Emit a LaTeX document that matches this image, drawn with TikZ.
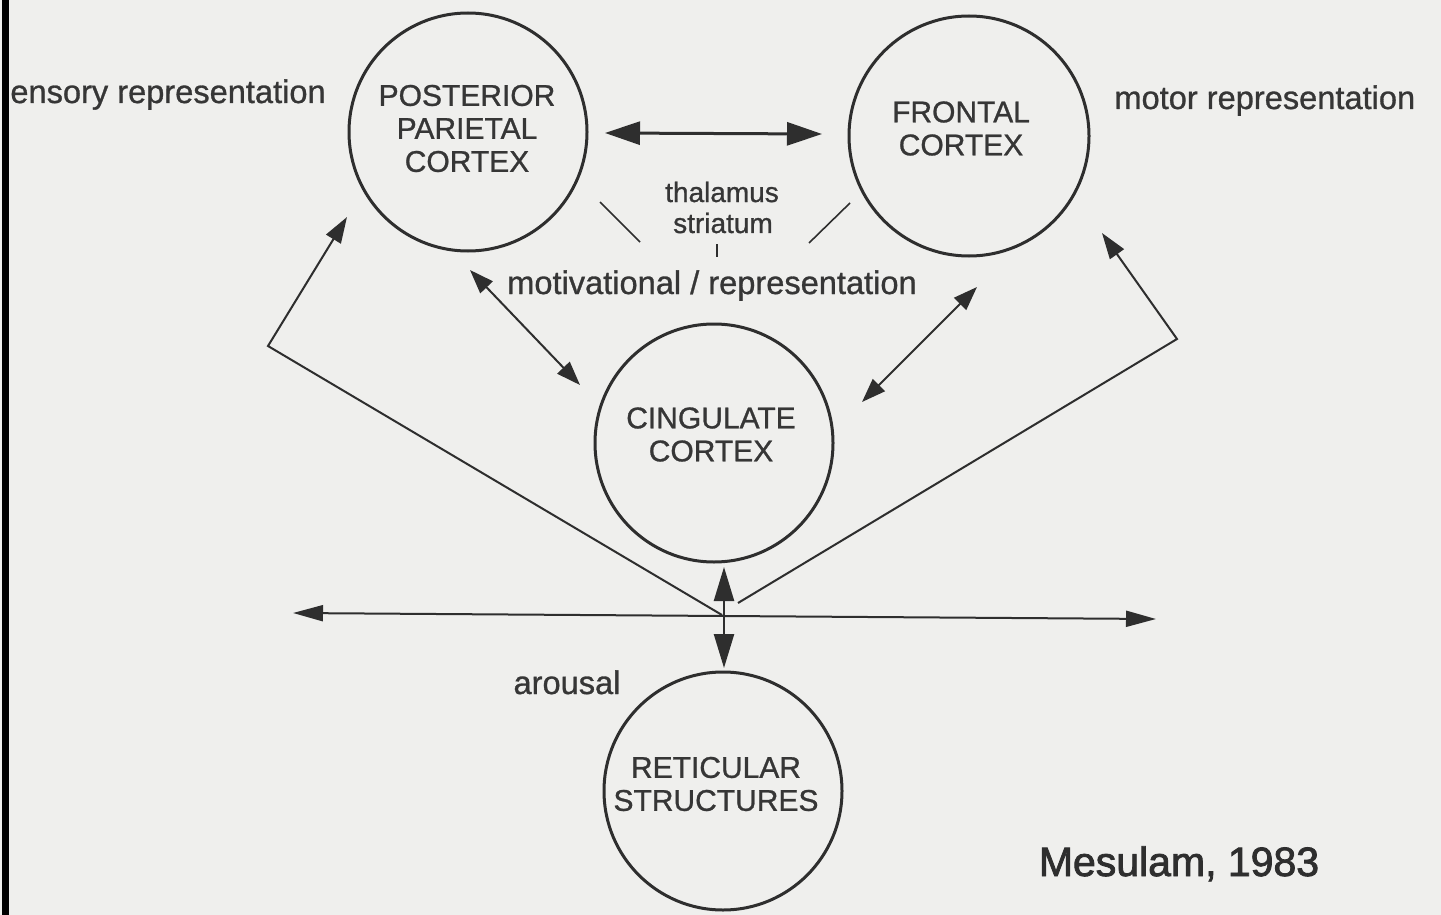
\documentclass[tikz,border=0pt]{standalone}
\usepackage{fontspec}
\setmainfont{Liberation Sans}[BoldFont=Liberation Sans, BoldFeatures={FakeBold=0.9}]
\newfontfamily\heavy{Liberation Sans}[FakeBold=2]
\usetikzlibrary{arrows.meta}
\definecolor{paper}{HTML}{EFEFED}
\definecolor{ink}{HTML}{2E2E2E}
\definecolor{txt}{HTML}{363636}
\begin{document}
\begin{tikzpicture}[x=0.5pt,y=-0.5pt,
  area/.style={circle, draw=ink, line width=1.5pt, minimum size=119pt, inner sep=0pt},
  caps/.style={font=\fontsize{15}{16.5}\selectfont\bfseries, text=txt, align=center, inner sep=0pt},
  lbl/.style={font=\fontsize{16.3}{18}\selectfont\bfseries, text=txt, inner sep=0pt, anchor=base},
  small/.style={font=\fontsize{14}{16}\selectfont\bfseries, text=txt, inner sep=0pt, anchor=base},
  bigtip/.style={{Triangle[length=17.5pt,width=11.5pt]}-{Triangle[length=17.5pt,width=11.5pt]}, line width=1.5pt, draw=ink},
  diag/.style={{Triangle[length=12pt,width=8.5pt]}-{Triangle[length=12pt,width=8.5pt]}, line width=1pt, draw=ink},
  feed/.style={-{Triangle[length=13pt,width=8.5pt]}, line width=1pt, draw=ink, line join=miter},
  axis/.style={{Triangle[length=15pt,width=8pt]}-{Triangle[length=15pt,width=8pt]}, line width=1pt, draw=ink},
  vert/.style={{Triangle[length=17pt,width=10pt]}-{Triangle[length=17pt,width=10pt]}, line width=1.2pt, draw=ink},
  thin/.style={line width=0.8pt, draw=ink}]

% paper and left frame
\fill[paper] (0,0) rectangle (1441,915);
\useasboundingbox (0,0) rectangle (1441,915);
\fill[black] (2,0) rectangle (9,915);

% cortical areas
\node[area] (pp) at (468,132) {};
\node[area, minimum size=120pt] (fc) at (969,136) {};
\node[area] (cc) at (714,443) {};
\node[area] (rs) at (723,791) {};

\node[caps] (ppT) at (467,128.5) {POSTERIOR\\PARIETAL\\CORTEX};
\node[caps] (fcT) at (961,128.5) {FRONTAL\\CORTEX};
\node[caps] (ccT) at (711,434.5) {CINGULATE\\CORTEX};
\node[caps] (rsT) at (716,784) {RETICULAR\\STRUCTURES};

% labels
\node[lbl, anchor=base west] (sens) at (10,103) {ensory representation};
\node[lbl, anchor=base west] (mot) at (1114,109) {motor representation};
\node[small] (thal) at (722,202) {thalamus};
\node[small] (stri) at (723,233) {striatum};
\node[lbl] (motiv) at (712,294) {motivational / representation};
\node[lbl] (arou) at (567,694) {arousal};
\node[font=\fontsize{20.5}{22}\selectfont\heavy, text=ink, inner sep=0pt, anchor=base] (ref) at (1179,876) {Mesulam, 1983};

% connector end points
\coordinate (ppE) at (605,133);
\coordinate (fcW) at (822,134);
\coordinate (ppS) at (470,270);
\coordinate (ccNW) at (580,385);
\coordinate (fcS) at (977,287);
\coordinate (ccNE) at (862,402);
\coordinate (hubL) at (722,615);
\coordinate (bendL) at (268,346);
\coordinate (ppSW) at (347,217);
\coordinate (hubR) at (738,603);
\coordinate (bendR) at (1177,339);
\coordinate (fcSE) at (1102,233);
\coordinate (west) at (293,613);
\coordinate (east) at (1156,619);
\coordinate (ccS) at (724,567);
\coordinate (rsN) at (724,668);
\coordinate (slL1) at (600,202);
\coordinate (slL2) at (640,242);
\coordinate (slR1) at (850,203);
\coordinate (slR2) at (809,243);
\coordinate (tk1) at (717,244);
\coordinate (tk2) at (717,257);

% connectors
\draw[bigtip] (ppE) -- (fcW);
\draw[diag] (ppS) -- (ccNW);
\draw[diag] (fcS) -- (ccNE);
\draw[feed] (hubL) -- (bendL) -- (ppSW);
\draw[feed] (hubR) -- (bendR) -- (fcSE);
\draw[axis] (west) -- (east);
\draw[vert] (ccS) -- (rsN);
\draw[thin] (slL1) -- (slL2);
\draw[thin] (slR1) -- (slR2);
\draw[thin] (tk1) -- (tk2);
\end{tikzpicture}
\end{document}
